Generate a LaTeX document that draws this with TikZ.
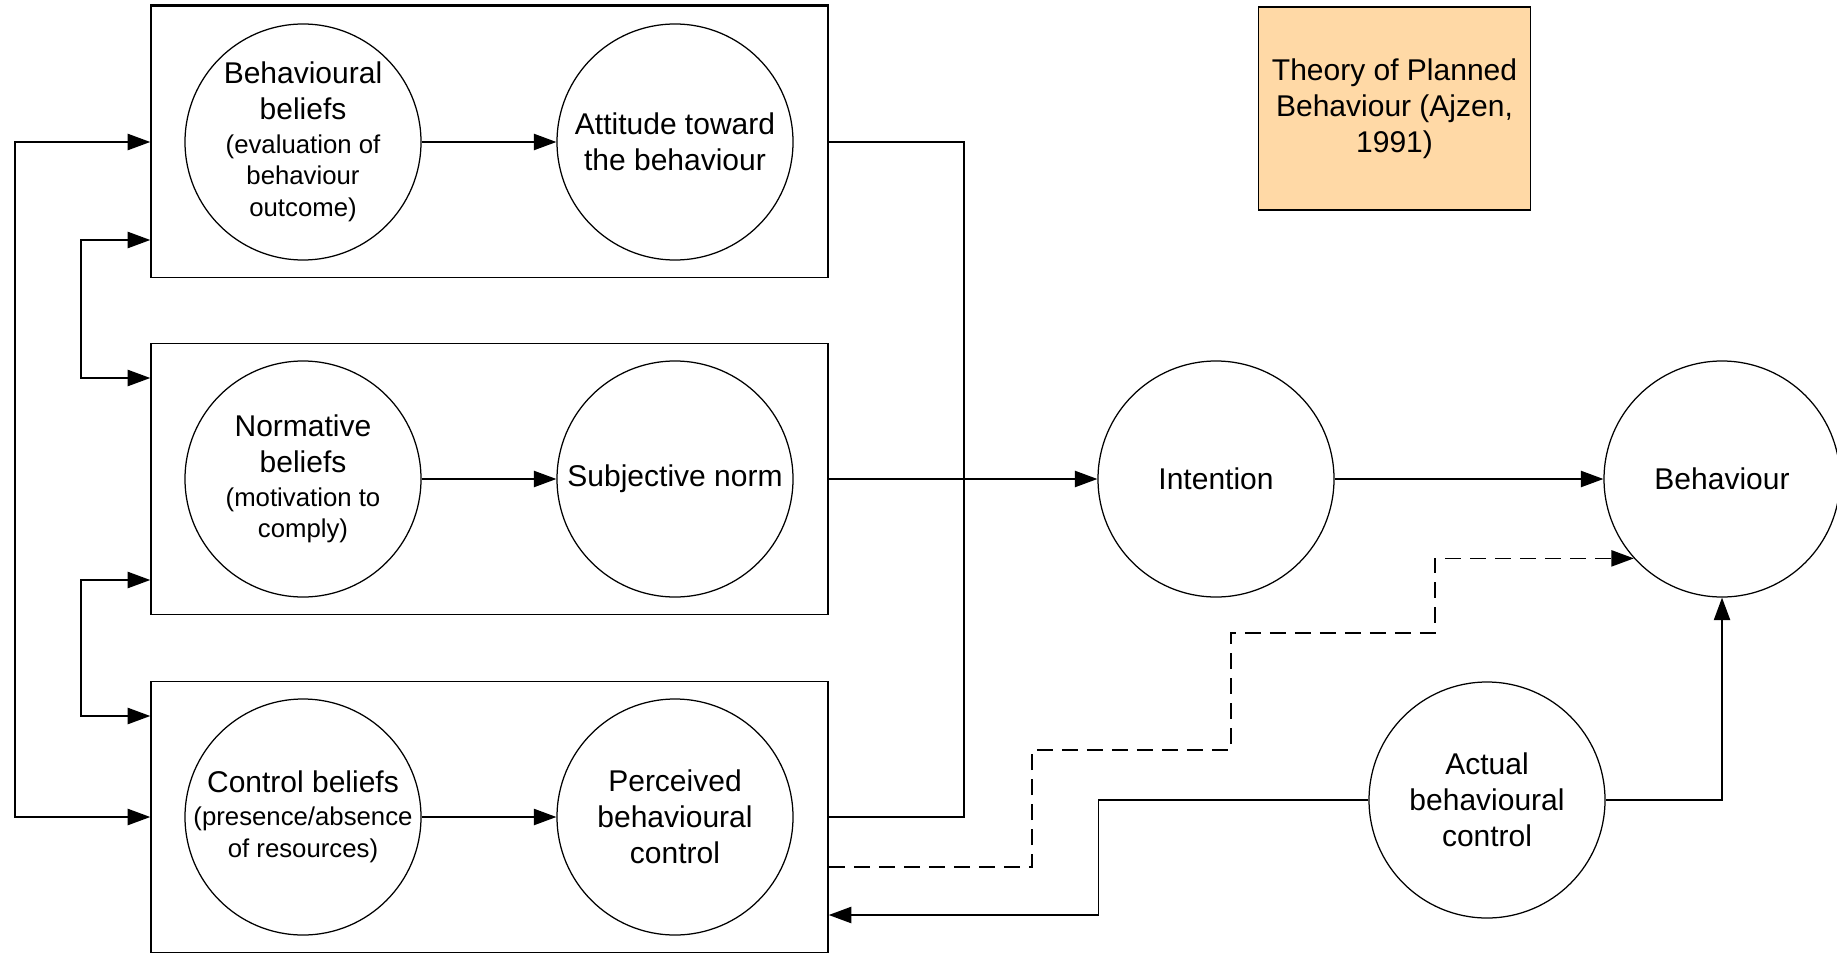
\documentclass[tikz,border=0pt]{standalone}
\usepackage{fontspec}
\setmainfont{Liberation Sans}
\usetikzlibrary{arrows.meta,calc}
\definecolor{notefill}{RGB}{255,217,166}
\newcommand{\detail}[1]{{\fontsize{10.3}{12.7}\selectfont #1}}

\begin{document}
\begin{tikzpicture}[
  x=0.4pt, y=-0.4pt,
  every node/.style={font=\fontsize{12}{14.5}\selectfont},
  circ/.style={draw,circle,line width=0.5pt,minimum size=94.4pt,inner sep=-4pt,align=center},
  grp/.style={draw,line width=0.6pt,minimum width=270.8pt,minimum height=108.4pt},
  note/.style={draw,line width=0.6pt,fill=notefill,minimum width=108.8pt,minimum height=81.2pt,align=center},
  ar/.style={-{Triangle[length=9pt,width=6.5pt]},line width=0.6pt},
  biar/.style={{Triangle[length=9pt,width=6.5pt]}-{Triangle[length=9pt,width=6.5pt]},line width=0.6pt},
  ln/.style={line width=0.6pt},
]
  \useasboundingbox (0,0) rectangle (1837,952);
  % construct groups
  \node[grp] (attbox) at (489.5,142) {};
  \node[grp] (normbox) at (489.5,479) {};
  \node[grp] (ctlbox) at (489.5,817) {};
  \draw[line width=1.3pt] (attbox.north west) -- (attbox.north east);
  % beliefs and components
  \node[circ] (bb) at (303,142) {Behavioural\\beliefs\\[-1.2pt]\detail{(evaluation of}\\[-1.8pt]\detail{behaviour}\\[-1.8pt]\detail{outcome)}};
  \node[circ] (att) at (675,142) {Attitude toward\\the behaviour};
  \node[circ] (nb) at (303,479) {Normative\\beliefs\\[-1.2pt]\detail{(motivation to}\\[-1.8pt]\detail{comply)}};
  \node[circ] (sn) at (675,479) {Subjective norm};
  \node[circ] (cb) at (303,817) {Control beliefs\\[-1.2pt]\detail{(presence/absence}\\[-1.8pt]\detail{of resources)}};
  \node[circ] (pbc) at (675,817) {Perceived\\behavioural\\control};
  % intention, behaviour, actual control
  \node[circ] (int) at (1216,479) {Intention};
  \node[circ] (beh) at (1722,479) {Behaviour};
  \node[circ] (abc) at (1487,800) {Actual\\behavioural\\control};
  \node[note] (tpb) at (1394.5,108.5) {Theory of Planned\\Behaviour (Ajzen,\\1991)};
  % beliefs -> components
  \draw[ar] (bb) -- (att);
  \draw[ar] (nb) -- (sn);
  \draw[ar] (cb) -- (pbc);
  % links between groups on the left
  \draw[biar] (attbox.west) -- ++(-135,0) |- (ctlbox.west);
  \draw[biar] ($(attbox.west)+(0,98)$) -- ++(-69,0) |- ($(normbox.west)+(0,-101)$);
  \draw[biar] ($(normbox.west)+(0,101)$) -- ++(-69,0) |- ($(ctlbox.west)+(0,-101)$);
  % components -> intention -> behaviour
  \draw[ln] (attbox.east) -- ++(135,0) |- (ctlbox.east);
  \draw[ar] (normbox.east) -- (int);
  \draw[ar] (int) -- (beh);
  % perceived control -> behaviour
  \draw[ar,dash pattern=on 6.5pt off 3.5pt] ($(ctlbox.east)+(0,50)$) -| ++(203,-117) -| ++(199,-117) -- ++(204,0) |- (beh.222);
  % actual control
  \draw[ar] (abc.west) -- ++(-270,0) |- ($(ctlbox.east)+(0,98)$);
  \draw[ar] (abc.east) -| (beh.south);
\end{tikzpicture}
\end{document}
